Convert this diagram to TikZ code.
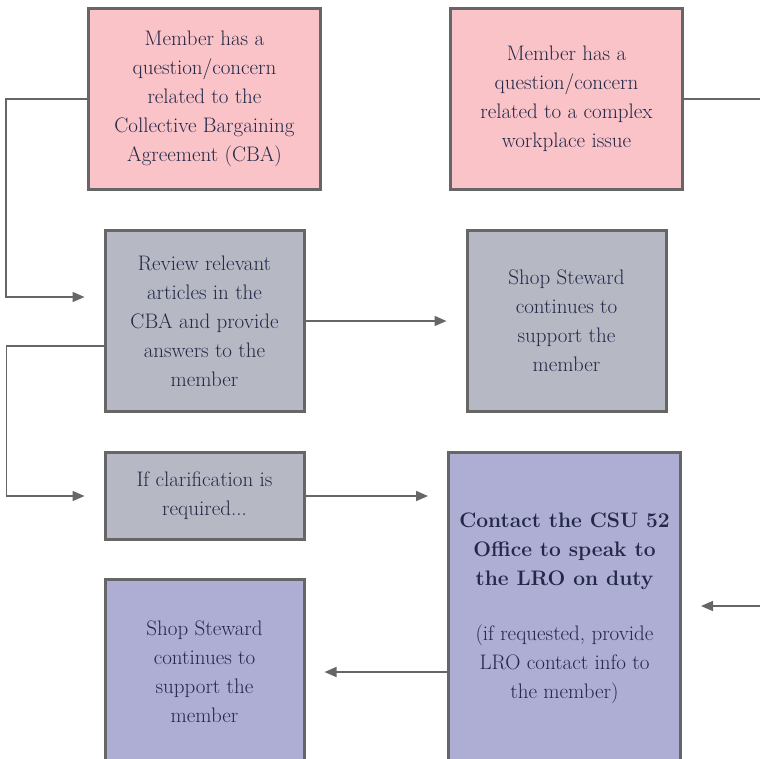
\documentclass[tikz,border=0pt]{standalone}
\usetikzlibrary{positioning}
\usetikzlibrary{arrows.meta}
\definecolor{pinkbox}{HTML}{F9C3C8}
\definecolor{graybox}{HTML}{B6B9C4}
\definecolor{purplebox}{HTML}{AEADD3}
\definecolor{edgegray}{HTML}{666666}
\definecolor{ink}{HTML}{232848}

\begin{document}
\begin{tikzpicture}[
    x=1pt,y=-1pt,
    node distance=38pt,
    box/.style={rectangle,draw=edgegray,line width=3pt,text=ink,align=center,inner sep=0pt,font=\fontsize{21}{29}\selectfont},
    concern/.style={box,fill=pinkbox,minimum width=232pt,minimum height=181pt},
    steward/.style={box,fill=graybox,minimum width=199pt,minimum height=181pt},
    clarify/.style={box,fill=graybox,minimum width=199pt,minimum height=87pt},
    office/.style={box,fill=purplebox,minimum width=232pt,minimum height=311pt},
    support/.style={box,fill=purplebox,minimum width=199pt,minimum height=185pt},
    conn/.style={draw=edgegray,line width=1.5pt},
    arr/.style={conn,-{Triangle[length=12pt,width=10pt]},shorten >=19pt}
    ]
    \useasboundingbox (0,0) rectangle (760,758);
    \node (cba) [concern,anchor=north west] at (87,7) {Member has a\\question/concern\\related to the\\Collective Bargaining\\Agreement (CBA)};
    \node (complex) [concern,right=127pt of cba] {Member has a\\question/concern\\related to a complex\\workplace issue};
    \node (review) [steward,below=of cba] {Review relevant\\articles in the\\CBA and provide\\answers to the\\member};
    \node (steward) [steward,below=of complex] {Shop Steward\\continues to\\support the\\member};
    \node (clarif) [clarify,below=of review] {If clarification is\\required...};
    \node (lro) [office,anchor=north west] at (447,451) {\textbf{Contact the CSU 52}\\\textbf{Office to speak to}\\\textbf{the LRO on duty}\\[26pt](if requested, provide\\LRO contact info to\\the member)};
    \node (support) [support,below=37pt of clarif] {Shop Steward\\continues to\\support the\\member};
    \coordinate (outright) at (770,99);
    \coordinate (inright) at (770,606);
    \draw[arr] (cba.west) -- ++(-81,0) |- ([yshift=24pt]review.west);
    \draw[arr] ([yshift=-25pt]review.west) -- ++(-97,0) |- (clarif.west);
    \draw[arr] (review) -- (steward);
    \draw[arr] (clarif.east) -- (clarif.east -| lro.west);
    \draw[arr] (support.east -| lro.west) -- (support.east);
    \draw[conn] (complex.east) -- (outright);
    \draw[arr] (inright) -- (inright -| lro.east);
  \end{tikzpicture}
\end{document}
